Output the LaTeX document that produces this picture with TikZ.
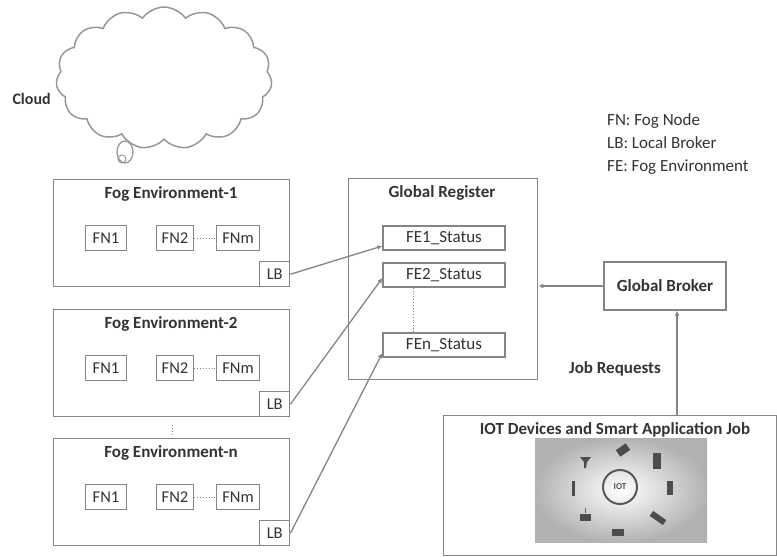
\documentclass[tikz,border=0pt]{standalone}
\usepackage{fontspec}
\setmainfont{Carlito}
\usetikzlibrary{shapes.symbols,arrows.meta,calc}
\definecolor{edge}{HTML}{858585}
\definecolor{ink}{HTML}{333333}
\begin{document}
\begin{tikzpicture}[x=1pt,y=-1pt,
  every node/.style={text=ink},
  box/.style={draw=edge,line width=1.4pt,inner sep=0pt},
  smallbox/.style={draw=edge,line width=1.3pt,inner sep=0pt,font=\fontsize{16.5}{18}\selectfont},
  ttl/.style={font=\bfseries\fontsize{17}{19}\selectfont},
  conn/.style={draw=edge,line width=1.3pt},
  tip/.style={-{Latex[length=5pt,width=5pt]}},
  dots/.style={draw=edge,line width=0.9pt,dotted},
  icon/.style={fill=black!70,draw=none}]
\useasboundingbox (0,0) rectangle (777,557);

% cloud
\node[cloud,cloud puffs=15,cloud puff arc=110,aspect=1.5,draw=edge!85,line width=1.5pt,
  minimum width=216pt,minimum height=142pt] (cloud) at (164,78) {};
\draw[edge!85,line width=1.3pt] (125,152) ellipse (8 and 11);
\draw[edge!85,line width=1pt] (122,159) ellipse (4 and 4);
\node[font=\bfseries\fontsize{16}{18}\selectfont,anchor=west] (cloudlbl) at (9,99) {Cloud};

% legend
\node[anchor=north west,align=left,font=\fontsize{17}{23}\selectfont,inner sep=0pt] (legend) at (607,113)
  {FN: Fog Node\\LB: Local Broker\\FE: Fog Environment};

% fog environments
\foreach \i/\top/\lbl in {1/179/Fog Environment-1,2/309/Fog Environment-2,n/438/Fog Environment-n}{
  \node[box,minimum width=236pt,minimum height=107pt,anchor=north west] (env\i) at (53,\top) {};
  \node[ttl] (envt\i) at (171,\top+15) {\lbl};
  \node[smallbox,minimum width=41pt,minimum height=25pt] (fna\i) at (106,\top+59) {FN1};
  \node[smallbox,minimum width=37pt,minimum height=25pt] (fnb\i) at (175,\top+59) {FN2};
  \node[smallbox,minimum width=43pt,minimum height=25pt] (fnc\i) at (238,\top+59) {FNm};
  \draw[dots] (fnb\i) -- (fnc\i);
  \node[smallbox,minimum width=30pt,minimum height=25pt,anchor=south east] (lb\i) at (env\i.south east) {LB};
}
\draw[dots] ($(env2.south)+(1,8)$) coordinate (d1) -- ($(envn.north)+(1,-1)$) coordinate (d2);

% global register
\node[box,minimum width=189pt,minimum height=201pt,anchor=north west] (gr) at (348,178) {};
\node[ttl] (grt) at (442,193) {Global Register};
\foreach \s/\y/\lbl in {1/238/FE1\_Status,2/275/FE2\_Status,n/345/FEn\_Status}{
  \node[smallbox,minimum width=122pt,minimum height=24pt,font=\fontsize{17}{19}\selectfont] (fe\s) at (444,\y) {\lbl};
}
\draw[dots] ($(fe2.south west)+(31,0)$) -- ($(fen.north west)+(31,0)$);

% local brokers report to the register
\draw[conn,tip] (lb1.east) -- ($(fe1.west)+(0,8)$);
\draw[conn,tip] (lb2.east) -- ($(fe2.west)+(0,3)$);
\draw[conn,tip] (lbn.east) -- ($(fen.west)+(0,8)$);

% global broker
\node[box,minimum width=122pt,minimum height=48pt,font=\bfseries\fontsize{17}{19}\selectfont] (gb) at (665,286) {Global Broker};
\draw[conn,tip] (gb.west) -- (gr.east |- gb.west);

% iot devices
\node[box,minimum width=333pt,minimum height=140pt,anchor=north west] (iot) at (443,415) {};
\node[ttl] (iott) at (615,430) {IOT Devices and Smart Application Job};
\coordinate (jr) at (677,415);
\draw[conn,tip] (jr) -- (gb.south -| jr);
\node[font=\bfseries\fontsize{17}{19}\selectfont] (jrl) at (615,369) {Job Requests};

% iot picture
\shade[inner color=white,outer color=black!30] (535,438) rectangle (707,542);
\draw[black!65,line width=2pt] (620,487) circle (17);
\node[font=\fontsize{9}{10}\selectfont\bfseries,text=black!70] (iotc) at (620,487) {IOT};
\fill[icon,rotate around={35:(623,450)}] (617,446) rectangle (629,454);
\fill[icon] (653,453) rectangle (661,469);
\fill[icon] (667,481) rectangle (673,495);
\fill[icon,rotate around={-35:(658,518)}] (650,515) rectangle (666,521);
\fill[icon] (612,529) rectangle (624,536);
\fill[icon] (580,514) rectangle (591,521);
\draw[black!60,line width=1pt] (585,513) -- (585,508);
\fill[icon] (572,481) rectangle (575,496);
\fill[icon] (580,457) -- (591,457) -- (587,462) -- (586,468) -- (584,468) -- (584,462) -- cycle;
\end{tikzpicture}
\end{document}
